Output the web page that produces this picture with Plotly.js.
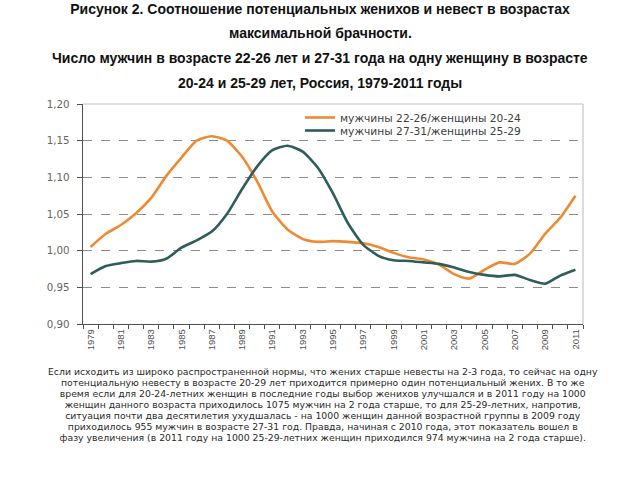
<!DOCTYPE html>
<html>
<head>
<meta charset="utf-8">
<script src="https://cdn.plot.ly/plotly-3.0.1.min.js"></script>
<style>html,body{margin:0;padding:0;background:#fff;}#chart{width:640px;height:480px;}</style>
</head>
<body>
<div id="chart"></div>
<script>
// ---- data ----
const years = [1979,1980,1981,1982,1983,1984,1985,1986,1987,1988,1989,1990,1991,1992,1993,1994,1995,1996,1997,1998,1999,2000,2001,2002,2003,2004,2005,2006,2007,2008,2009,2010,2011];
const men22_26_women20_24 = [1.005,1.023,1.035,1.051,1.072,1.102,1.127,1.150,1.156,1.150,1.128,1.094,1.053,1.029,1.016,1.012,1.013,1.012,1.010,1.005,0.997,0.991,0.988,0.981,0.968,0.962,0.974,0.984,0.982,0.996,1.023,1.045,1.075];
const men27_31_women25_29 = [0.968,0.979,0.983,0.986,0.985,0.989,1.004,1.014,1.026,1.050,1.084,1.115,1.137,1.143,1.135,1.113,1.078,1.037,1.008,0.993,0.987,0.986,0.984,0.982,0.977,0.971,0.967,0.965,0.967,0.960,0.955,0.966,0.974];
const seriesNames = ['мужчины 22-26/женщины 20-24','мужчины 27-31/женщины 25-29'];
const xTickYears = [1979,1981,1983,1985,1987,1989,1991,1993,1995,1997,1999,2001,2003,2005,2007,2009,2011];
const yTicks = [0.90,0.95,1.00,1.05,1.10,1.15,1.20];
const titleLines = [
  'Рисунок 2. Соотношение потенциальных женихов и невест в возрастах',
  'максимальной брачности.',
  'Число мужчин в возрасте 22-26 лет и 27-31 года на одну женщину в возрасте',
  '20-24 и 25-29 лет, Россия, 1979-2011 годы'
];
const bodyLines = [
  'Если исходить из широко распространенной нормы, что жених старше невесты на 2-3 года, то сейчас на одну',
  'потенциальную невесту в возрасте 20-29 лет приходится примерно один потенциальный жених. В то же',
  'время если для 20-24-летних женщин в последние годы выбор женихов улучшался и в 2011 году на 1000',
  'женщин данного возраста приходилось 1075 мужчин на 2 года старше, то для 25-29-летних, напротив,',
  'ситуация почти два десятилетия ухудшалась - на 1000 женщин данной возрастной группы в 2009 году',
  'приходилось 955 мужчин в возрасте 27-31 год. Правда, начиная с 2010 года, этот показатель вошел в',
  'фазу увеличения (в 2011 году на 1000 25-29-летних женщин приходился 974 мужчина на 2 года старше).'
];

// ---- layout helpers ----
const plotTop = 104, plotBottom = 324;
const pyToPaper = py => (plotBottom - py) / (plotBottom - plotTop);

const traces = [
  {x: years, y: men22_26_women20_24, name: seriesNames[0], type: 'scatter', mode: 'lines', legend: 'legend',
   line: {color: '#EE8A32', width: 2.6, shape: 'spline', smoothing: 0.6}},
  {x: years, y: men27_31_women25_29, name: seriesNames[1], type: 'scatter', mode: 'lines', legend: 'legend2',
   line: {color: '#2E5D5A', width: 2.6, shape: 'spline', smoothing: 0.6}}
];

const annotations = [];
const titleY = [33, 58, 83];
for (let i = 1; i < titleLines.length; i++) {
  annotations.push({text: titleLines[i], xref: 'paper', yref: 'paper', x: 0.474, y: pyToPaper(titleY[i-1]),
    xanchor: 'center', yanchor: 'middle', showarrow: false,
    font: {family: 'Liberation Sans, Arial, sans-serif', size: 14, color: '#111', weight: 'bold'}});
}
// body paragraph: one text block, tight line spacing (11 px)
const bodyText = bodyLines.map(t => '<span style="font-size:9.3px">' + t + '</span>').join('<br>');
annotations.push({text: bodyText, xref: 'paper', yref: 'paper', x: (323 - 83) / 500, y: pyToPaper(364),
  xanchor: 'center', yanchor: 'top', align: 'center', showarrow: false,
  font: {family: 'DejaVu Sans, Verdana, sans-serif', size: 8.46, color: '#2a2a2a'}});

const legendFont = {family: 'DejaVu Sans, Verdana, sans-serif', size: 10.7, color: '#404040'};
const layout = {
  width: 640, height: 480,
  margin: {l: 83, r: 57, t: plotTop, b: 480 - plotBottom, pad: 0},
  paper_bgcolor: '#ffffff', plot_bgcolor: '#ffffff',
  separators: ', ',
  title: {text: titleLines[0], x: 0.5, xref: 'container', xanchor: 'center',
    y: 1 - 9/480, yref: 'container', yanchor: 'middle',
    font: {family: 'Liberation Sans, Arial, sans-serif', size: 14, color: '#111', weight: 'bold'}},
  showlegend: true,
  legend: {x: (300 - 83) / 500, y: pyToPaper(103), xanchor: 'left', yanchor: 'top',
    bgcolor: 'rgba(0,0,0,0)', borderwidth: 0, font: legendFont},
  legend2: {x: (300 - 83) / 500, y: pyToPaper(116), xanchor: 'left', yanchor: 'top',
    bgcolor: 'rgba(0,0,0,0)', borderwidth: 0, font: legendFont},
  xaxis: {
    range: [1978.5, 2011.5], tickmode: 'array', tickvals: xTickYears, ticktext: xTickYears.map(String),
    tickangle: -90, ticks: '', showgrid: false, zeroline: false,
    showline: true, linecolor: '#505050', linewidth: 1.3,
    tickfont: {family: 'Liberation Sans Narrow, Arial Narrow, Liberation Sans, sans-serif', size: 9.5, color: '#505050'},
    minor: {tickmode: 'linear', tick0: 1978.5, dtick: 1, ticks: 'outside', ticklen: 4, tickcolor: '#505050', tickwidth: 1, showgrid: false}
  },
  yaxis: {
    range: [0.90, 1.20], tickmode: 'array', tickvals: yTicks, tickformat: '.2f',
    ticks: 'outside', ticklen: 5, tickcolor: '#505050', ticklabelstandoff: 5,
    showline: true, linecolor: '#505050', linewidth: 1.3, zeroline: false,
    showgrid: true, gridcolor: '#8c8c8c', griddash: 'dash', gridwidth: 1,
    tickfont: {family: 'DejaVu Sans, Verdana, sans-serif', size: 10.3, color: '#666666'}
  },
  shapes: [
    {type: 'line', xref: 'paper', yref: 'paper', x0: 0, x1: 1, y0: 1, y1: 1, line: {color: '#c4c4c4', width: 1.2}},
    {type: 'line', xref: 'paper', yref: 'paper', x0: 1, x1: 1, y0: 0, y1: 1, line: {color: '#c4c4c4', width: 1.2}}
  ],
  annotations: annotations
};

Plotly.newPlot('chart', traces, layout, {displayModeBar: false, staticPlot: true});
</script>
</body>
</html>
